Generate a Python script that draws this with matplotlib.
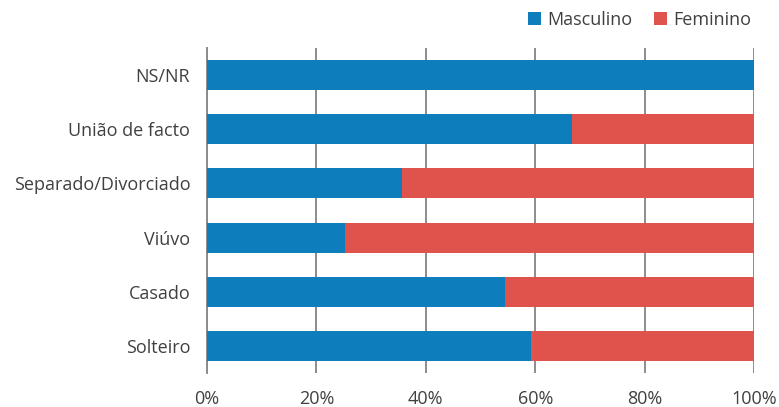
import matplotlib
matplotlib.use("Agg")
import matplotlib.pyplot as plt
import numpy as np

categories = ["Solteiro", "Casado", "Viúvo", "Separado/Divorciado", "União de facto", "NS/NR"]
masculino = [59.2, 54.5, 25.2, 35.7, 66.7, 100.0]
feminino = [40.8, 45.5, 74.8, 64.3, 33.3, 0.0]
xticks = [0, 20, 40, 60, 80, 100]
xtick_labels = ["0%", "20%", "40%", "60%", "80%", "100%"]

plt.rcParams["font.family"] = ["Open Sans", "DejaVu Sans"]

blue = "#0E7DBC"
red = "#E0524C"
grid_c = "#8C8C8C"
text_c = "#404040"
fs = 13

fig = plt.figure(figsize=(7.79, 4.07), dpi=100)
ax = fig.add_axes([207 / 779, 1 - 373 / 407, 547 / 779, 325 / 407])

y = np.arange(len(categories))
h = 0.556
ax.barh(y, masculino, height=h, color=blue, label="Masculino", zorder=3)
ax.barh(y, feminino, left=masculino, height=h, color=red, label="Feminino", zorder=3)

ax.set_xlim(0, 100)
ax.set_ylim(-0.5, len(categories) - 0.5)
ax.set_yticks(y)
ax.set_yticklabels(categories, fontsize=fs, color=text_c)
ax.set_xticks(xticks)
ax.set_xticklabels(xtick_labels, fontsize=fs, color=text_c)
ax.tick_params(axis="y", length=0, pad=12)
ax.tick_params(axis="x", length=0, pad=12)
ax.grid(axis="x", color=grid_c, linewidth=1.4, zorder=0)

for s in ["top", "right", "bottom"]:
    ax.spines[s].set_visible(False)
ax.spines["left"].set_color(grid_c)
ax.spines["left"].set_linewidth(1.4)

leg = fig.legend(loc="upper right", bbox_to_anchor=(762 / 779, 1.0), ncol=2, frameon=False,
                 fontsize=fs, handlelength=0.7, handleheight=0.7, handletextpad=0.35,
                 columnspacing=1.2, borderaxespad=0.2)
for t in leg.get_texts():
    t.set_color(text_c)

fig.savefig("out.png", dpi=100)
